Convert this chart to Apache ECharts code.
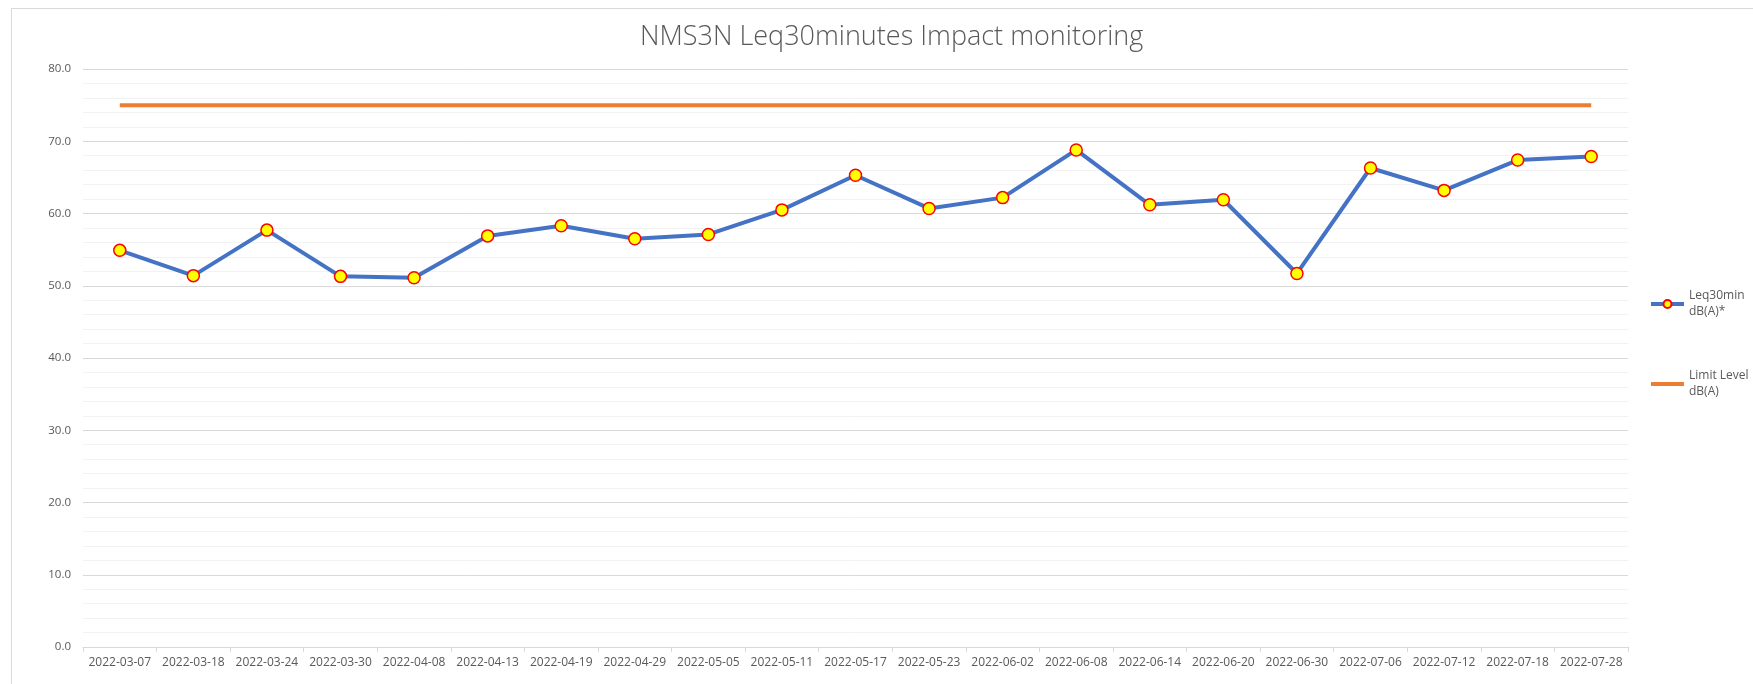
<!DOCTYPE html>
<html>
<head>
<meta charset="utf-8">
<script src="https://cdn.jsdelivr.net/npm/echarts@6/dist/echarts.min.js"></script>
<style>
  html, body { margin: 0; padding: 0; background: #fff; }
  #chart { width: 1753px; height: 684px; }
</style>
</head>
<body>
<div id="chart"></div>
<script>
// Sampling dates (category axis)
const dates = [
  '2022-03-07', '2022-03-18', '2022-03-24', '2022-03-30', '2022-04-08',
  '2022-04-13', '2022-04-19', '2022-04-29', '2022-05-05', '2022-05-11',
  '2022-05-17', '2022-05-23', '2022-06-02', '2022-06-08', '2022-06-14',
  '2022-06-20', '2022-06-30', '2022-07-06', '2022-07-12', '2022-07-18',
  '2022-07-28'
];

// Measured Leq30min levels, dB(A)
const leq30min = [
  54.9, 51.4, 57.7, 51.3, 51.1,
  56.9, 58.3, 56.5, 57.1, 60.5,
  65.3, 60.7, 62.2, 68.8, 61.2,
  61.9, 51.7, 66.3, 63.2, 67.4,
  67.9
];

// Limit level, dB(A)
const limitLevel = [
  75, 75, 75, 75, 75, 75, 75, 75, 75, 75, 75,
  75, 75, 75, 75, 75, 75, 75, 75, 75, 75
];

const seriesNames = ['Leq30min dB(A)*', 'Limit Level dB(A)'];
const chartTitle = 'NMS3N Leq30minutes Impact monitoring';

const FONT = "'Open Sans', 'Liberation Sans', sans-serif";
const GREY_TEXT = '#595959';
const BLUE = '#4472C4';
const ORANGE = '#ED7D31';

const chart = echarts.init(document.getElementById('chart'), null, { renderer: 'canvas' });

chart.setOption({
  animation: false,
  backgroundColor: '#ffffff',
  textStyle: { fontFamily: FONT },
  graphic: [{
    type: 'rect',
    left: 9, top: 6,
    shape: { width: 1800, height: 720 },
    style: { fill: 'none', stroke: '#D9D9D9', lineWidth: 1 },
    silent: true
  }],
  title: {
    text: chartTitle,
    left: 635,
    top: 19,
    textStyle: { fontFamily: FONT, fontSize: 27, fontWeight: 300, color: GREY_TEXT }
  },
  legend: {
    orient: 'vertical',
    left: 1644,
    top: 275,
    itemWidth: 33,
    itemHeight: 10,
    itemGap: 32,
    data: [
      { name: seriesNames[0], lineStyle: { width: 4 } },
      { name: seriesNames[1], lineStyle: { width: 4 }, itemStyle: { opacity: 0 } }
    ],
    formatter: name => name.replace(' dB', '\ndB'),
    textStyle: {
      fontFamily: FONT, fontSize: 12, lineHeight: 16, color: GREY_TEXT,
      padding: [16, 0, 0, 0]
    }
  },
  grid: { left: 83, right: 125, top: 69, bottom: 37 },
  xAxis: {
    type: 'category',
    data: dates,
    boundaryGap: true,
    axisLine: { show: true, lineStyle: { color: '#D9D9D9', width: 1 } },
    axisTick: { show: true, length: 5, interval: 0, lineStyle: { color: '#D9D9D9' } },
    axisLabel: { interval: 0, margin: 10, fontSize: 12, color: GREY_TEXT, fontFamily: FONT },
    splitLine: { show: false }
  },
  yAxis: {
    type: 'value',
    min: 0, max: 80, interval: 10,
    axisLine: { show: false },
    axisTick: { show: false },
    axisLabel: {
      margin: 12, fontSize: 11.5, color: GREY_TEXT, fontFamily: FONT,
      formatter: v => v.toFixed(1)
    },
    splitLine: { show: true, lineStyle: { color: '#D9D9D9', width: 1 } },
    minorTick: { show: false, splitNumber: 5 },
    minorSplitLine: { show: true, lineStyle: { color: '#F2F2F2', width: 1 } }
  },
  series: [
    {
      name: seriesNames[0],
      type: 'line',
      data: leq30min,
      z: 3,
      lineStyle: { color: BLUE, width: 4 },
      itemStyle: { color: '#FFFF00', borderColor: '#FF0000', borderWidth: 1.5 },
      symbol: 'circle',
      symbolSize: 12,
      showSymbol: true
    },
    {
      name: seriesNames[1],
      type: 'line',
      data: limitLevel,
      z: 2,
      lineStyle: { color: ORANGE, width: 4 },
      itemStyle: { color: ORANGE },
      symbol: 'none',
      showSymbol: false
    }
  ]
});
</script>
</body>
</html>
